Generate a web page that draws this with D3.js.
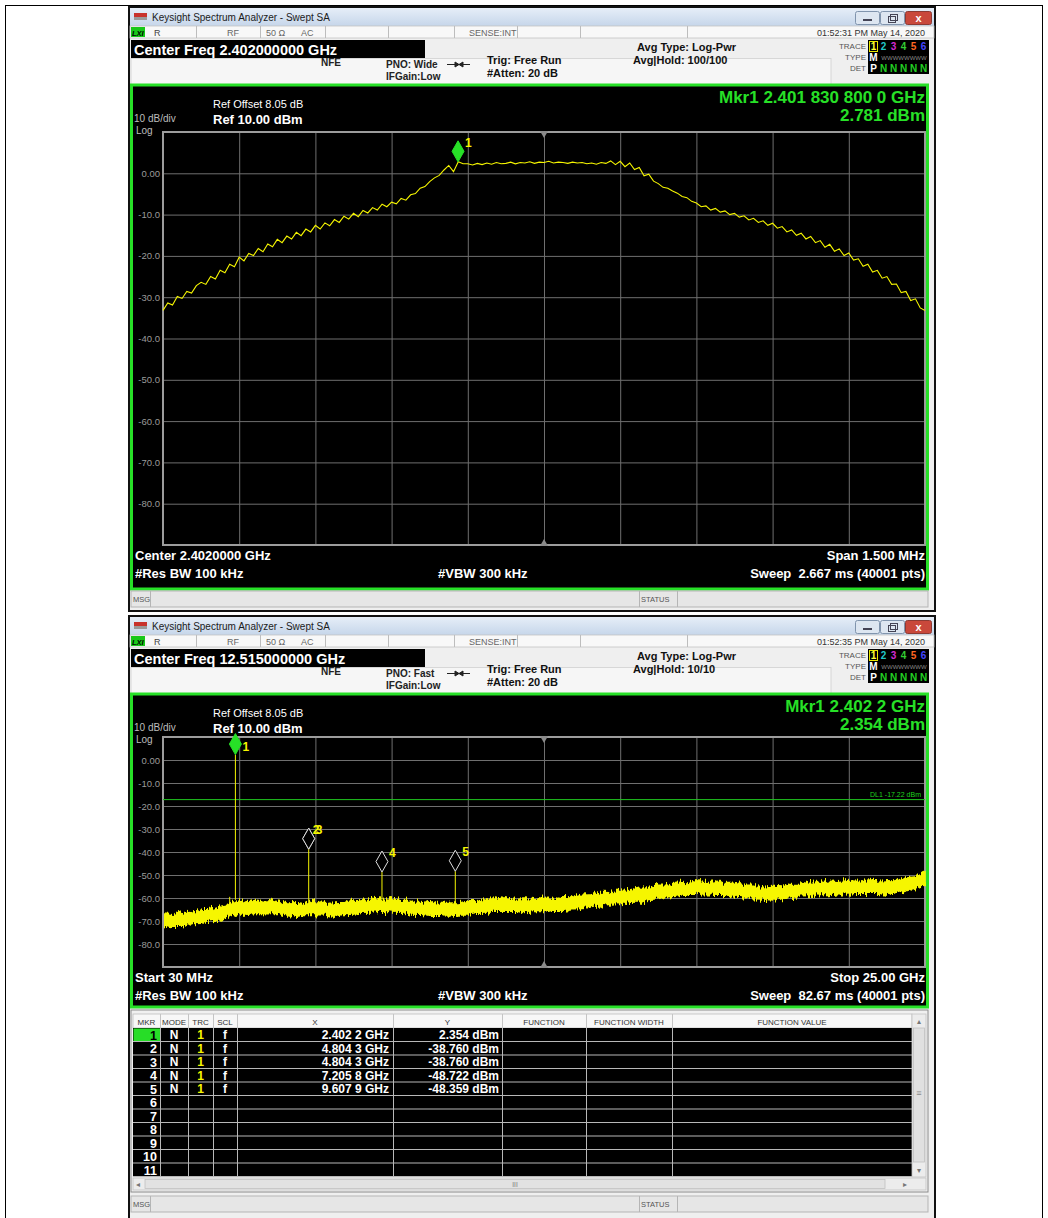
<!DOCTYPE html>
<html><head><meta charset="utf-8">
<script src="https://cdn.jsdelivr.net/npm/d3@7"></script>
<style>
body{margin:0;background:#fff;}
svg{display:block;}
svg text{white-space:pre;}
</style></head><body>
<svg width="1048" height="1218"></svg>
<script>
// ---- data ----
const topStartGHz = 2.40125, topStopGHz = 2.40275;
// 161 trace samples, dBm, evenly spaced over the 1.5 MHz span
const topLevels = [
  -33.2,-31.4,-31.9,-29.8,-30.3,-28.6,-29.0,-27.2,
  -26.4,-26.9,-25.0,-25.6,-23.5,-24.1,-22.0,-22.6,
  -20.3,-21.2,-19.4,-19.9,-18.2,-19.0,-17.1,-17.8,
  -16.0,-16.8,-15.2,-15.9,-14.3,-15.1,-13.5,-14.2,
  -12.6,-13.5,-12.0,-12.7,-11.2,-11.9,-10.4,-11.1,
  -9.7,-10.5,-9.0,-9.6,-8.3,-8.9,-7.5,-8.1,
  -7.0,-7.4,-6.1,-6.5,-5.2,-4.9,-3.6,-3.2,
  -2.0,-1.1,-0.5,0.8,1.9,0.4,2.78,2.3,
  2.3,2.0,2.4,2.1,2.5,2.2,2.6,2.3,
  2.4,2.7,2.3,2.6,2.5,2.8,2.4,2.7,
  2.6,2.9,2.5,2.7,2.6,2.4,2.7,2.5,
  2.6,2.3,2.5,2.2,2.6,2.4,3.0,2.1,
  2.9,1.6,2.5,0.9,1.4,-0.6,-0.2,-1.9,
  -2.5,-3.4,-3.6,-4.3,-4.8,-5.6,-5.9,-6.8,
  -7.2,-8.1,-7.9,-8.9,-8.5,-9.4,-9.1,-10.0,
  -9.7,-10.6,-10.3,-11.3,-10.9,-11.9,-11.5,-12.6,
  -12.1,-13.3,-12.9,-14.2,-13.7,-15.0,-14.5,-15.9,
  -15.3,-16.8,-16.3,-17.9,-17.2,-18.9,-18.3,-19.9,
  -19.3,-21.0,-20.7,-22.5,-22.0,-23.9,-23.5,-25.4,
  -25.0,-26.9,-26.8,-28.9,-28.6,-30.8,-30.4,-32.6,-33.2
];
const topMarkerGHz = 2.4018308, topMarkerDbm = 2.781;

const botStartGHz = 0.03, botStopGHz = 25.0;
// noise band envelope, 81 samples over 30 MHz .. 25 GHz
const botUpper = [
  -67.0,-67.3,-66.2,-66.4,-65.1,-65.0,-63.6,-63.2,-60.8,-61.7,
  -61.0,-61.9,-60.9,-62.2,-62.1,-62.4,-61.2,-62.5,-62.2,-62.0,
  -61.1,-61.3,-60.1,-60.7,-60.4,-61.2,-61.0,-62.1,-61.7,-62.4,
  -62.3,-62.1,-61.6,-61.7,-60.6,-60.6,-59.9,-60.7,-60.5,-60.8,
  -60.1,-60.2,-59.5,-59.6,-58.8,-58.6,-57.6,-57.7,-56.6,-56.9,
  -55.9,-55.6,-54.5,-54.4,-53.2,-53.5,-52.5,-53.0,-52.6,-53.4,
  -53.2,-54.4,-54.5,-55.4,-55.0,-55.2,-54.1,-54.0,-53.1,-53.4,
  -52.7,-53.0,-52.4,-52.8,-52.1,-52.8,-52.5,-52.6,-51.3,-50.8,-48.6
];
const botLower = [
  -73.0,-72.2,-72.3,-71.1,-71.0,-69.8,-69.5,-68.0,-66.8,-67.0,
  -66.6,-66.8,-66.6,-67.3,-67.9,-67.1,-67.2,-67.4,-67.9,-67.1,
  -66.9,-66.2,-66.1,-65.6,-66.1,-66.2,-66.9,-67.0,-67.5,-67.4,
  -67.9,-67.4,-67.4,-66.6,-66.5,-65.6,-65.7,-65.6,-66.3,-65.8,
  -65.9,-65.2,-65.3,-64.6,-64.5,-63.6,-63.4,-62.6,-62.4,-61.8,
  -61.7,-60.6,-60.3,-59.4,-59.1,-58.4,-58.4,-58.0,-58.4,-58.4,
  -59.1,-59.4,-60.3,-60.4,-60.8,-60.2,-59.9,-59.0,-58.9,-58.4,
  -58.5,-58.0,-58.2,-57.8,-57.9,-57.8,-58.3,-57.6,-57.1,-55.8,-54.4
];
const botSpikeGHz  = [2.216, 2.4022, 4.8043, 7.2058, 9.6079];
const botSpikeDbm  = [-59.5, 2.354, -38.760, -48.722, -48.359];

const markerNo  = [1, 2, 3, 4, 5];
const markerGHz = [2.4022, 4.8043, 4.8043, 7.2058, 9.6079];
const markerDbm = [2.354, -38.760, -38.760, -48.722, -48.359];
const markerXText = ["2.402 2 GHz", "4.804 3 GHz", "4.804 3 GHz", "7.205 8 GHz", "9.607 9 GHz"];
const markerYText = ["2.354 dBm", "-38.760 dBm", "-38.760 dBm", "-48.722 dBm", "-48.359 dBm"];
const tableRows = [1,2,3,4,5,6,7,8,9,10,11];
const tableCols = ["MKR","MODE","TRC","SCL","X","Y","FUNCTION","FUNCTION WIDTH","FUNCTION VALUE"];

const yTicks = [0,-10,-20,-30,-40,-50,-60,-70,-80];
const displayLineDbm = -17.22;

// ---- drawing ----
const FONT = '"Liberation Sans", Arial, sans-serif';
const svg = d3.select('svg').attr('font-family', FONT);
const YEL = '#f6f600', GRN = '#27e027';

const defs = svg.append('defs');
const grad = defs.append('linearGradient').attr('id','tb').attr('x1',0).attr('y1',0).attr('x2',0).attr('y2',1);
grad.append('stop').attr('offset','0%').attr('stop-color','#e6eef8');
grad.append('stop').attr('offset','100%').attr('stop-color','#c6d6ea');
// roughens the edge of the noise band so it reads like a dense sweep
const rough = defs.append('filter').attr('id','rough').attr('x','-2%').attr('y','-60%').attr('width','104%').attr('height','220%');
rough.append('feTurbulence').attr('type','fractalNoise').attr('baseFrequency','0.6 0.015').attr('numOctaves',2).attr('seed',4).attr('result','n');
rough.append('feDisplacementMap').attr('in','SourceGraphic').attr('in2','n').attr('scale',10)
  .attr('xChannelSelector','B').attr('yChannelSelector','G');

function txt(g, x, y, s, o = {}) {
  return g.append('text').attr('x', x).attr('y', y).text(s)
    .attr('font-size', o.size || 10)
    .attr('font-weight', o.bold ? 'bold' : 'normal')
    .attr('font-style', o.italic ? 'italic' : 'normal')
    .attr('fill', o.fill || '#000')
    .attr('text-anchor', o.anchor || 'start');
}
function rect(g, x, y, w, h, fill, stroke, sw) {
  return g.append('rect').attr('x', x).attr('y', y).attr('width', w).attr('height', h)
    .attr('fill', fill || 'none').attr('stroke', stroke || 'none').attr('stroke-width', sw || 1);
}
function vline(g, x, y1, y2, c, w) {
  g.append('line').attr('x1', x).attr('x2', x).attr('y1', y1).attr('y2', y2).attr('stroke', c).attr('stroke-width', w || 1);
}

// page frame
rect(svg, 5.5, 5.5, 1037, 1230, 'none', '#000', 1);

function drawChrome(oy, hdr, winH) {
  const g = svg.append('g');
  rect(g, 129, oy - 1, 806, winH, '#efefef', '#111', 2);
  rect(g, 130, oy, 804, 18, 'url(#tb)');
  // app icon
  rect(g, 134, oy + 5, 13, 4, '#c8322c');
  rect(g, 134, oy + 9, 13, 3, '#9a9a9a');
  txt(g, 152, oy + 13, 'Keysight Spectrum Analyzer - Swept SA', {size: 10, fill: '#1b1b1b'});
  // window buttons
  rect(g, 855.5, oy + 3.5, 24, 13, '#dde6f1', '#8094ad').attr('rx', 2);
  rect(g, 880.5, oy + 3.5, 24, 13, '#dde6f1', '#8094ad').attr('rx', 2);
  rect(g, 905.5, oy + 3.5, 26, 13, '#c9483b', '#8c3a33').attr('rx', 2);
  g.append('line').attr('x1', 863).attr('x2', 872).attr('y1', oy + 12).attr('y2', oy + 12).attr('stroke', '#445').attr('stroke-width', 2);
  rect(g, 888.5, oy + 8.5, 7, 6, 'none', '#445');
  rect(g, 890.5, oy + 6.5, 7, 6, 'none', '#445');
  txt(g, 918.5, oy + 14, 'x', {size: 11, bold: true, fill: '#fff', anchor: 'middle'});

  // status row
  rect(g, 130, oy + 18, 804, 12, '#f8f8f8', '#c4c4c4', 0.8);
  rect(g, 131, oy + 19, 14, 10, '#18c818');
  txt(g, 132, oy + 27.5, 'LXI', {size: 7.5, bold: true, italic: true, fill: '#000'});
  [196, 260, 325, 388, 454, 517, 580, 687].forEach(x => vline(g, x + 0.5, oy + 18, oy + 30, '#bdbdbd'));
  txt(g, 154, oy + 27.5, 'R', {size: 9, fill: '#444'});
  txt(g, 227, oy + 27.5, 'RF', {size: 9, fill: '#666'});
  txt(g, 266, oy + 27.5, '50 \u03A9', {size: 9, fill: '#666'});
  txt(g, 301, oy + 27.5, 'AC', {size: 9, fill: '#666'});
  txt(g, 469, oy + 27.5, 'SENSE:INT', {size: 9, fill: '#666'});
  txt(g, 925, oy + 27.5, hdr.time, {size: 9, fill: '#333', anchor: 'end'});

  // settings panel
  rect(g, 131, oy + 50.5, 700, 26, '#f6f6f6', '#d0d0d0', 0.8);
  rect(g, 131, oy + 32, 294, 18, '#000');
  txt(g, 134, oy + 47, hdr.center, {size: 14.5, bold: true, fill: '#fff'});
  txt(g, 321, oy + 58, 'NFE', {size: 10, bold: true, fill: '#222'});
  txt(g, 386, oy + 60, hdr.pno, {size: 10, bold: true, fill: '#222'});
  txt(g, 386, oy + 72, 'IFGain:Low', {size: 10, bold: true, fill: '#222'});
  g.append('path').attr('d', `M447 ${oy + 56.5}H470M455 ${oy + 54}L459 ${oy + 56.5}L455 ${oy + 59}ZM463 ${oy + 54}L459 ${oy + 56.5}L463 ${oy + 59}Z`)
    .attr('stroke', '#222').attr('fill', '#222').attr('stroke-width', 1);
  txt(g, 487, oy + 56, 'Trig: Free Run', {size: 11, bold: true, fill: '#111'});
  txt(g, 487, oy + 69, '#Atten: 20 dB', {size: 11, bold: true, fill: '#111'});
  txt(g, 637, oy + 43, 'Avg Type: Log-Pwr', {size: 11, bold: true, fill: '#111'});
  txt(g, 633, oy + 56, hdr.avg, {size: 11, bold: true, fill: '#111'});

  // trace / type / det box
  rect(g, 868, oy + 32, 61, 34, '#000');
  txt(g, 866, oy + 40.5, 'TRACE', {size: 8, fill: '#555', anchor: 'end'});
  txt(g, 866, oy + 51.5, 'TYPE', {size: 8, fill: '#555', anchor: 'end'});
  txt(g, 866, oy + 62.5, 'DET', {size: 8, fill: '#555', anchor: 'end'});
  rect(g, 869.5, oy + 33.5, 8, 10, 'none', '#e8e800');
  ['#ffff33', '#22c8c8', '#d22ad2', '#33cc33', '#ff6622', '#4646ff'].forEach((c, i) =>
    txt(g, 873.5 + i * 10, oy + 42, String(i + 1), {size: 10, bold: true, fill: c, anchor: 'middle'}));
  txt(g, 873.5, oy + 53, 'M', {size: 10, bold: true, fill: '#fff', anchor: 'middle'});
  txt(g, 904, oy + 52, 'WWWWWWWW', {size: 6, fill: '#888', anchor: 'middle'});
  txt(g, 873.5, oy + 64, 'P', {size: 10, bold: true, fill: '#fff', anchor: 'middle'});
  [0, 1, 2, 3, 4].forEach(i => txt(g, 883.5 + i * 10, oy + 64, 'N', {size: 10, bold: true, fill: '#22d022', anchor: 'middle'}));
  return g;
}

function drawMsg(y) {
  const g = svg.append('g');
  rect(g, 131, y, 797, 16, '#e6e6e6', '#b5b5b5', 1);
  vline(g, 150.5, y, y + 16, '#b5b5b5');
  vline(g, 677.5, y, y + 16, '#b5b5b5');
  vline(g, 639.5, y, y + 16, '#b5b5b5');
  txt(g, 133, y + 11, 'MSG', {size: 7.5, fill: '#555'});
  txt(g, 641, y + 11, 'STATUS', {size: 7.5, fill: '#555'});
}

function drawGraph(c) {
  const {panelTop, panelBottom, gridTop, gridBottom, x, y} = c;
  const x0 = x.range()[0], x1 = x.range()[1];
  const g = svg.append('g');
  rect(g, 131.5, panelTop, 796, panelBottom - panelTop, '#000', GRN, 3);

  const span = x.domain()[1] - x.domain()[0];
  const xGrid = d3.range(0, 11).map(i => x.domain()[0] + i * span / 10);
  g.append('g').attr('transform', `translate(0,${gridBottom})`)
    .call(d3.axisBottom(x).tickValues(xGrid).tickSize(-(gridBottom - gridTop)).tickFormat(''));
  g.append('g').attr('transform', `translate(${x0},0)`)
    .call(d3.axisLeft(y).tickValues(d3.range(10, -91, -10)).tickSize(-(x1 - x0)).tickFormat(''));
  g.selectAll('.domain').remove();
  g.selectAll('.tick line').attr('stroke', '#6f6f6f').attr('stroke-width', 1);
  rect(g, x0, gridTop, x1 - x0, gridBottom - gridTop, 'none', '#9c9c9c', 2);
  const cx = x(x.domain()[0] + span / 2);
  g.append('path').attr('d', `M${cx - 4} ${gridTop - 1}L${cx + 4} ${gridTop - 1}L${cx} ${gridTop + 6}Z`).attr('fill', '#8a8a8a');
  g.append('path').attr('d', `M${cx - 4} ${gridBottom + 1}L${cx + 4} ${gridBottom + 1}L${cx} ${gridBottom - 6}Z`).attr('fill', '#8a8a8a');

  g.selectAll('text.ylab').data(yTicks).join('text').attr('class', 'ylab')
    .attr('x', 160).attr('y', d => y(d) + 3.5).attr('text-anchor', 'end')
    .attr('font-size', 9.5).attr('fill', '#9a9a9a')
    .text(d => d === 0 ? '0.00' : d.toFixed(1));

  txt(g, 213, panelTop + 23, 'Ref Offset 8.05 dB', {size: 11, fill: '#fff'});
  txt(g, 213, panelTop + 38.5, 'Ref 10.00 dBm', {size: 13, bold: true, fill: '#fff'});
  txt(g, 134, panelTop + 37, '10 dB/div', {size: 10, fill: '#bdbdbd'});
  txt(g, 136, panelTop + 48.5, 'Log', {size: 10, fill: '#bdbdbd'});
  txt(g, 925, panelTop + 18, c.mkr1, {size: 17, bold: true, fill: GRN, anchor: 'end'});
  txt(g, 925, panelTop + 36, c.mkr2, {size: 17, bold: true, fill: GRN, anchor: 'end'});

  txt(g, 135, gridBottom + 15, c.left1, {size: 13, bold: true, fill: '#fff'});
  txt(g, 925, gridBottom + 15, c.right1, {size: 13, bold: true, fill: '#fff', anchor: 'end'});
  txt(g, 135, gridBottom + 33, '#Res BW 100 kHz', {size: 13, bold: true, fill: '#fff'});
  txt(g, 438, gridBottom + 33, '#VBW 300 kHz', {size: 13, bold: true, fill: '#fff'});
  txt(g, 925, gridBottom + 33, c.right2, {size: 13, bold: true, fill: '#fff', anchor: 'end'});
  return g;
}

function drawMarker(g, px, py, label, active, gridTop, lx) {
  g.append('path')
    .attr('d', `M${px} ${py}L${px - 6} ${py - 10.5}L${px} ${py - 21}L${px + 6} ${py - 10.5}Z`)
    .attr('fill', active ? GRN : '#000').attr('stroke', active ? GRN : '#e0e0e0').attr('stroke-width', 1);
  txt(g, px + 7 + (lx || 0), Math.max(py - 15, gridTop + 14), label, {size: 12, bold: true, fill: YEL});
}

// ===== top window =====
drawChrome(8, {time: '01:52:31 PM May 14, 2020', center: 'Center Freq 2.402000000 GHz',
  pno: 'PNO: Wide', avg: 'Avg|Hold: 100/100'}, 604);

const xTop = d3.scaleLinear().domain([topStartGHz, topStopGHz]).range([163, 925]);
const yTop = d3.scaleLinear().domain([-90, 10]).range([545, 132]);
const gTop = drawGraph({panelTop: 85, panelBottom: 589, gridTop: 132, gridBottom: 545, x: xTop, y: yTop,
  mkr1: 'Mkr1 2.401 830 800 0 GHz', mkr2: '2.781 dBm',
  left1: 'Center 2.4020000 GHz', right1: 'Span 1.500 MHz', right2: 'Sweep  2.667 ms (40001 pts)'});
const topStep = (topStopGHz - topStartGHz) / (topLevels.length - 1);
gTop.append('path').datum(topLevels)
  .attr('d', d3.line().x((d, i) => xTop(topStartGHz + i * topStep)).y(d => yTop(d)))
  .attr('fill', 'none').attr('stroke', YEL).attr('stroke-width', 1.1);
drawMarker(gTop, xTop(topMarkerGHz), yTop(topMarkerDbm), '1', true, 132);
drawMsg(591);

// ===== bottom window =====
drawChrome(617, {time: '01:52:35 PM May 14, 2020', center: 'Center Freq 12.515000000 GHz',
  pno: 'PNO: Fast', avg: 'Avg|Hold: 10/10'}, 620);

const xBot = d3.scaleLinear().domain([botStartGHz, botStopGHz]).range([163, 925]);
const yBot = d3.scaleLinear().domain([-90, 10]).range([967, 737]);
const gBot = drawGraph({panelTop: 694, panelBottom: 1007, gridTop: 737, gridBottom: 967, x: xBot, y: yBot,
  mkr1: 'Mkr1 2.402 2 GHz', mkr2: '2.354 dBm',
  left1: 'Start 30 MHz', right1: 'Stop 25.00 GHz', right2: 'Sweep  82.67 ms (40001 pts)'});

// display line
gBot.append('line').attr('x1', 163).attr('x2', 925)
  .attr('y1', yBot(displayLineDbm)).attr('y2', yBot(displayLineDbm))
  .attr('stroke', '#1fc41f').attr('stroke-width', 1);
txt(gBot, 921, yBot(displayLineDbm) - 3, 'DL1 -17.22 dBm', {size: 7, fill: '#1fd01f', anchor: 'end'});

const botStep = (botStopGHz - botStartGHz) / (botUpper.length - 1);
const bx = i => xBot(botStartGHz + i * botStep);
gBot.append('path').datum(d3.range(botUpper.length))
  .attr('d', d3.area().x(bx).y0(i => yBot(botLower[i])).y1(i => yBot(botUpper[i])))
  .attr('fill', YEL).attr('stroke', YEL).attr('stroke-width', 1.6)
  .attr('filter', 'url(#rough)');
botSpikeGHz.forEach((f, k) => {
  const i = Math.round((f - botStartGHz) / botStep);
  gBot.append('line').attr('x1', xBot(f)).attr('x2', xBot(f))
    .attr('y1', yBot(botUpper[i])).attr('y2', yBot(botSpikeDbm[k]))
    .attr('stroke', YEL).attr('stroke-width', 1);
});
markerNo.forEach((n, k) => {
  drawMarker(gBot, xBot(markerGHz[k]), yBot(markerDbm[k]), String(n), n === 1, 737, n === 2 ? -3 : 0);
});

// ===== marker table =====
const gT = svg.append('g');
rect(gT, 131, 1010, 797, 182, '#f0f0f0', '#8c8c8c', 1);
const colX = [133, 160, 188, 213, 237, 393, 502, 586, 672, 912];
const rowH = 13.5, rowTop = 1028;
rect(gT, 133, 1014, 779, 14, '#f7f7f7', '#bdbdbd', 0.8);
tableCols.forEach((c, i) => {
  txt(gT, (colX[i] + colX[i + 1]) / 2, 1024.5, c, {size: 8, fill: '#333', anchor: 'middle'});
  if (i > 0) vline(gT, colX[i] + 0.5, 1014, 1028, '#c4c4c4');
});
rect(gT, 133, rowTop, 779, rowH * tableRows.length, '#000');
rect(gT, 133.5, rowTop + 0.5, 26.5, rowH - 1, '#27dd27');
tableRows.forEach((r, i) => {
  gT.append('line').attr('x1', 133).attr('x2', 912).attr('y1', rowTop + (i + 1) * rowH).attr('y2', rowTop + (i + 1) * rowH)
    .attr('stroke', '#b8b8b8').attr('stroke-width', 1);
});
colX.slice(1, -1).forEach(x => vline(gT, x + 0.5, rowTop, rowTop + rowH * tableRows.length, '#b8b8b8'));
tableRows.forEach((r, i) => {
  txt(gT, 157, rowTop + i * rowH + 11.5, String(r), {size: 12.5, bold: true, fill: i === 0 ? '#000' : '#fff', anchor: 'end'});
});
markerNo.forEach((n, i) => {
  const by = rowTop + i * rowH + 11.2;
  txt(gT, 174, by, 'N', {size: 12, bold: true, fill: '#fff', anchor: 'middle'});
  txt(gT, 200.5, by, '1', {size: 12, bold: true, fill: YEL, anchor: 'middle'});
  txt(gT, 225, by, 'f', {size: 12, bold: true, fill: '#fff', anchor: 'middle'});
  txt(gT, 389, by, markerXText[i], {size: 12, bold: true, fill: '#fff', anchor: 'end'});
  txt(gT, 499, by, markerYText[i], {size: 12, bold: true, fill: '#fff', anchor: 'end'});
});
// scrollbars
rect(gT, 912, 1014, 14, 163, '#ececec', '#c4c4c4', 0.8);
rect(gT, 913.5, 1028, 11, 134, '#e0e0e0', '#c0c0c0', 0.8);
txt(gT, 919, 1024, '\u25B4', {size: 8, fill: '#777', anchor: 'middle'});
txt(gT, 919, 1173, '\u25BE', {size: 8, fill: '#777', anchor: 'middle'});
txt(gT, 919, 1096, '\u2261', {size: 9, fill: '#888', anchor: 'middle'});
rect(gT, 133, 1178, 793, 12, '#ececec', '#c4c4c4', 0.8);
rect(gT, 145, 1179.5, 740, 9, '#e2e2e2', '#c0c0c0', 0.8);
txt(gT, 138, 1187, '\u25C2', {size: 8, fill: '#777', anchor: 'middle'});
txt(gT, 905, 1187, '\u25B8', {size: 8, fill: '#777', anchor: 'middle'});
txt(gT, 515, 1187, 'III', {size: 6.5, fill: '#777', anchor: 'middle'});
drawMsg(1196);
</script>
</body></html>
